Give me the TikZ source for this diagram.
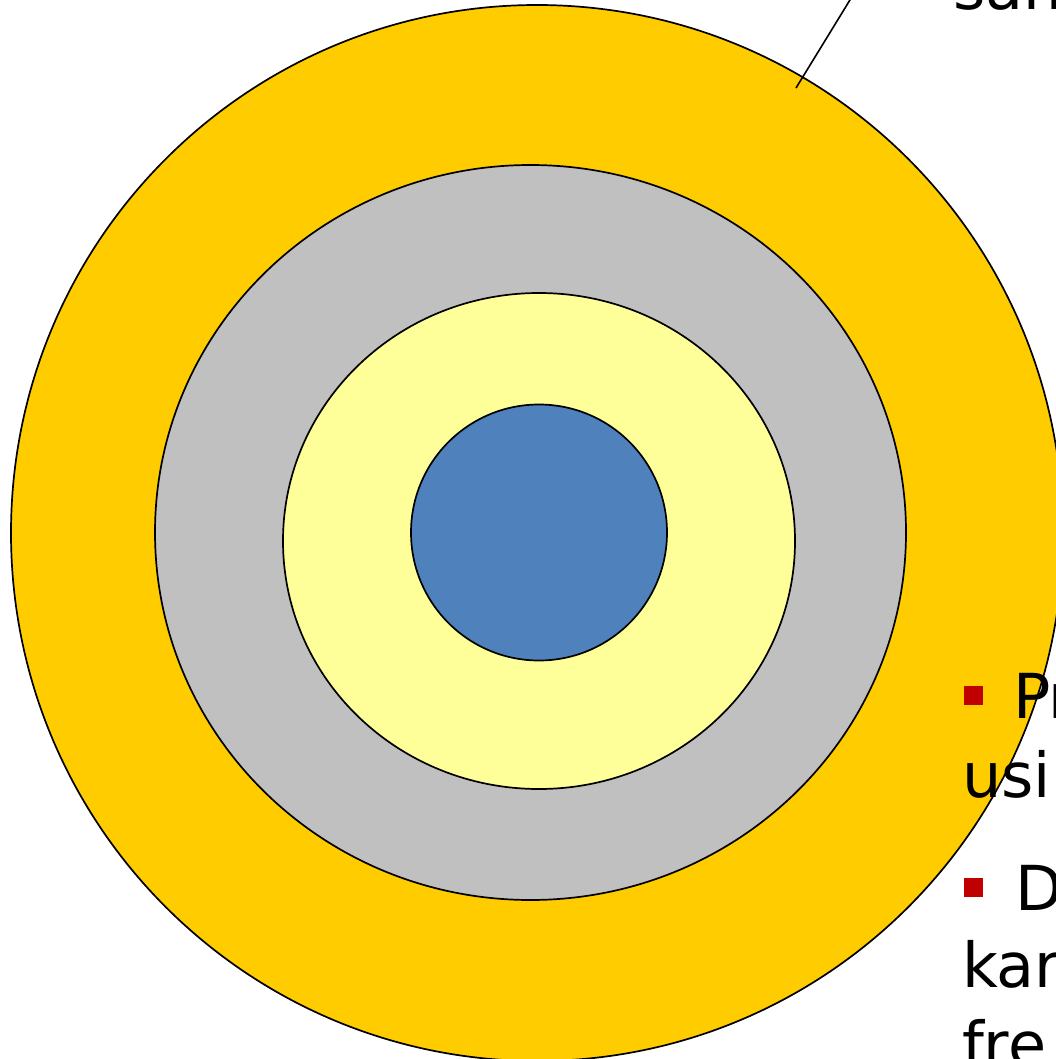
\documentclass[tikz,border=0pt]{standalone}
\usepackage{fontspec}
\setmainfont{DejaVu Sans}
\definecolor{jacket}{HTML}{FFCC00}
\definecolor{clad}{HTML}{C0C0C0}
\definecolor{buffer}{HTML}{FFFF99}
\definecolor{corec}{HTML}{4F81BD}
\definecolor{bulc}{HTML}{C00000}
\begin{document}
\begin{tikzpicture}[x=1pt,y=-1pt,
  layer/.style={draw=black,line width=1.7pt},
  lbl/.style={anchor=base west,inner sep=0pt,outer sep=0pt,font=\fontsize{62}{79}\selectfont},
  bulletsq/.style={fill=bulc,draw=none},
  leader/.style={draw=black,line width=1.6pt}]
\useasboundingbox (0,0) rectangle (1056,1059);
\clip (0,0) rectangle (1056,1059);
% rings
\filldraw[layer,fill=jacket] (537,533) ellipse [x radius=526, y radius=528];
\filldraw[layer,fill=clad] (530.5,532.5) ellipse [x radius=375.5, y radius=367.5];
\filldraw[layer,fill=buffer] (539,541) ellipse [x radius=256, y radius=248];
\filldraw[layer,fill=corec] (539,532.5) circle [radius=128];
% leader line
\coordinate (lstart) at (796,88);
\coordinate (lend) at (853,-5);
\draw[leader] (lstart) -- (lend);
% texts
\node[lbl] (top) at (953,10) {san};
\fill[bulletsq] (964,686) rectangle (983,705);
\node[lbl] (t1) at (1013,718) {P\kern-2pt r};
\node[lbl] (t2) at (962,797) {usi};
\fill[bulletsq] (964,878) rectangle (983,897);
\node[lbl] (t3) at (1015,910) {D};
\node[lbl] (t4) at (962,987) {kar};
\node[lbl] (t5) at (962,1066) {fre};
\end{tikzpicture}
\end{document}
